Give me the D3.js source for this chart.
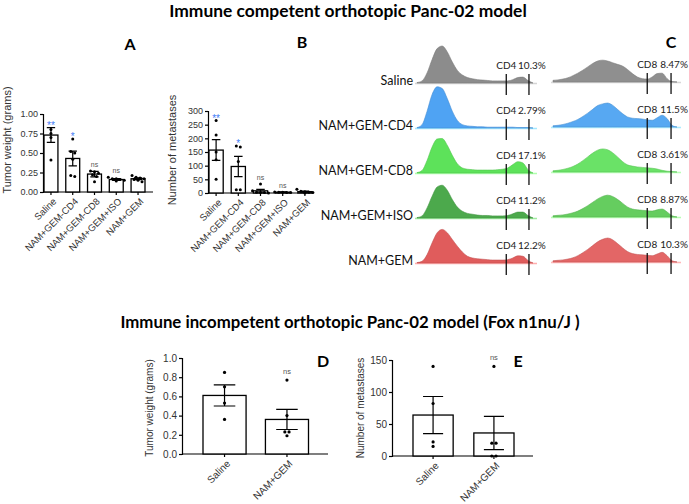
<!DOCTYPE html>
<html>
<head>
<meta charset="utf-8">
<script src="https://cdn.jsdelivr.net/npm/d3@7"></script>
<style>
  body { margin: 0; background: #fff; }
  svg { display: block; }
  .axis path, .axis line { stroke: #000; stroke-width: 1.2; }
  .axis text { font-family: "Liberation Sans", Arial, sans-serif; fill: #333; }
</style>
</head>
<body>
<svg id="chart" width="689" height="504"></svg>
<script>
// immune competent groups (A, B, C)
const groupsTop = ["Saline", "NAM+GEM-CD4", "NAM+GEM-CD8", "NAM+GEM+ISO", "NAM+GEM"];
const weightMeans = [0.73, 0.43, 0.23, 0.16, 0.17];
const weightSem = [0.095, 0.095, 0.035, 0.012, 0.012];
const weightPoints = [
  [0.80, 0.75, 0.70, 0.41],
  [0.68, 0.52, 0.50, 0.42, 0.20, 0.21],
  [0.27, 0.26, 0.22, 0.20, 0.13, 0.24],
  [0.19, 0.17, 0.16, 0.15, 0.14, 0.17],
  [0.21, 0.19, 0.18, 0.16, 0.15, 0.17, 0.13]
];
const weightSig = ["**", "*", "ns", "ns", ""];
const weightTicks = [0, 0.25, 0.5, 0.75, 1.0];

const metMeans = [157, 97, 8, 3, 5];
const metSem = [38, 37, 5, 1, 2];
const metPoints = [
  [265, 212, 150, 122, 50],
  [172, 168, 115, 12, 12],
  [33, 8, 3, 2, 0, 2],
  [3, 2, 2, 3, 4],
  [14, 5, 2, 0, 3, 6]
];
const metSig = ["**", "*", "ns", "ns", ""];
const metTicks = [0, 50, 100, 150, 200, 250, 300];

// flow histograms (C): counts per bin
const cd4Hist = [
  [1, 5, 24, 56, 82, 88, 74, 50, 30, 19, 13, 10, 8, 7, 6, 5, 5, 5, 5, 8, 13, 14, 6, 0],
  [1, 8, 40, 80, 98, 94, 70, 40, 18, 8, 5, 4, 3, 3, 2, 2, 2, 2, 2, 2, 1, 1, 1, 0],
  [1, 6, 30, 62, 81, 82, 66, 42, 22, 12, 9, 8, 7, 7, 7, 7, 8, 9, 12, 20, 27, 24, 8, 0],
  [1, 5, 24, 52, 74, 78, 66, 44, 26, 16, 11, 9, 7, 6, 6, 5, 5, 5, 6, 10, 14, 14, 6, 0],
  [1, 4, 20, 48, 72, 80, 72, 56, 40, 26, 16, 12, 10, 9, 8, 7, 7, 7, 8, 12, 17, 16, 6, 0]
];
const cd8Hist = [
  [4, 5, 7, 10, 15, 21, 28, 36, 44, 50, 52, 50, 46, 42, 38, 30, 20, 12, 8, 7, 12, 20, 21, 8, 1, 0],
  [3, 4, 6, 9, 13, 18, 25, 33, 42, 51, 55, 57, 52, 42, 32, 24, 21, 20, 19, 17, 16, 22, 28, 20, 4, 0],
  [3, 4, 6, 9, 13, 19, 27, 36, 45, 52, 55, 53, 46, 36, 25, 17, 14, 12, 11, 10, 9, 7, 4, 2, 1, 0],
  [3, 4, 5, 7, 10, 14, 20, 27, 35, 43, 49, 52, 49, 42, 33, 24, 19, 17, 16, 15, 14, 17, 19, 12, 3, 0],
  [3, 4, 5, 7, 10, 15, 22, 30, 39, 48, 54, 57, 53, 44, 34, 25, 20, 18, 17, 16, 15, 19, 23, 15, 3, 0]
];
const cd4Gate = [17.7, 22.2];
const cd8Gate = [19, 23.8];
const cd4Pct = ["10.3%", "2.79%", "17.1%", "11.2%", "12.2%"];
const cd8Pct = ["8.47%", "11.5%", "3.61%", "8.87%", "10.3%"];

// nude mice (D, E)
const groupsBottom = ["Saline", "NAM+GEM"];
const nudeWeightMeans = [0.61, 0.36];
const nudeWeightSem = [0.11, 0.105];
const nudeWeightPoints = [[0.85, 0.70, 0.53, 0.36], [0.77, 0.40, 0.23, 0.23, 0.19]];
const nudeWeightSig = ["", "ns"];
const nudeWeightTicks = [0, 0.2, 0.4, 0.6, 0.8, 1.0];

const nudeMetMeans = [64, 36];
const nudeMetSem = [29, 26];
const nudeMetPoints = [[140, 82, 22, 15], [140, 20, 20, 0, 0]];
const nudeMetSig = ["", "ns"];
const nudeMetTicks = [0, 50, 100, 150];

const leftCols = ["#8c8c8c", "#4fa3f3", "#5de25a", "#4ca94c", "#e05c5c"];
const rightCols = ["#8f8f8f", "#57a8f2", "#6ae267", "#65cd5f", "#e36666"];

const svg = d3.select("#chart");
const titleFont = "Lato, 'Open Sans', sans-serif";
const arial = "'Liberation Sans', Arial, sans-serif";

svg.append("text").attr("x", 348).attr("y", 17).attr("text-anchor", "middle")
  .attr("font-family", titleFont).attr("font-weight", "bold").attr("font-size", 17.4)
  .text("Immune competent orthotopic Panc-02 model");
svg.append("text").attr("x", 350).attr("y", 328).attr("text-anchor", "middle")
  .attr("font-family", titleFont).attr("font-weight", "bold").attr("font-size", 16.8)
  .text("Immune incompetent orthotopic Panc-02 model (Fox n1nu/J )");

[["A", 130, 50], ["B", 302, 48], ["C", 671, 48], ["D", 323, 367], ["E", 518, 367]].forEach(([t, x, y]) => {
  svg.append("text").attr("x", x).attr("y", y).attr("text-anchor", "middle")
    .attr("font-family", titleFont).attr("font-weight", "bold").attr("font-size", 16).text(t);
});

// spread points that overlap horizontally, like a scatter dot plot
function swarm(vals, y, cx, r) {
  const pts = vals.map(v => ({ v, py: y(v) })).sort((a, b) => a.py - b.py);
  const clusters = [];
  pts.forEach(p => {
    const c = clusters[clusters.length - 1];
    if (c && Math.abs(p.py - c[0].py) < 2 * r + 0.4) c.push(p); else clusters.push([p]);
  });
  const d = 2 * r + 1;
  clusters.forEach(c => c.forEach((p, j) => { p.px = cx + (j - (c.length - 1) / 2) * d; }));
  return pts;
}

function barPanel(o) {
  const g = svg.append("g");
  const x = d3.scaleBand().domain(o.groups).range(o.band).paddingInner(o.pad).paddingOuter(0);
  const y = d3.scaleLinear().domain([0, o.ymax]).range([o.y0, o.y1]);
  const bw = x.bandwidth();

  g.append("g").attr("class", "axis").attr("transform", `translate(${o.ax},0)`)
    .call(d3.axisLeft(y).tickValues(o.ticks).tickFormat(d3.format(o.fmt)).tickSize(3).tickPadding(2))
    .call(s => s.selectAll("text").attr("font-size", o.tickFs));

  const xa = g.append("g").attr("class", "axis").attr("transform", `translate(0,${o.y0})`)
    .call(d3.axisBottom(x).tickSize(3).tickSizeOuter(0).tickFormat(""));
  xa.select(".domain").attr("d", `M${o.ax},0H${o.axEnd}`);

  // slanted category labels
  g.selectAll("text.xlab").data(o.groups).join("text").attr("class", "xlab")
    .attr("transform", d => `translate(${x(d) + bw / 2 + 1},${o.y0 + 5}) rotate(-45)`)
    .attr("text-anchor", "end").attr("dy", "0.75em")
    .attr("font-family", arial).attr("font-size", o.labFs).attr("fill", "#333").text(d => d);

  g.append("text")
    .attr("transform", `translate(${o.labX},${o.labY}) rotate(-90)`)
    .attr("text-anchor", "middle").attr("font-family", arial)
    .attr("font-size", o.ylabFs).attr("fill", "#333").text(o.ylabel);

  g.selectAll("rect.bar").data(o.groups).join("rect").attr("class", "bar")
    .attr("x", d => x(d)).attr("width", bw)
    .attr("y", (d, i) => y(o.means[i])).attr("height", (d, i) => o.y0 - y(o.means[i]))
    .attr("fill", "#fff").attr("stroke", "#000").attr("stroke-width", 1.3);

  o.groups.forEach((grp, i) => {
    const cx = x(grp) + bw / 2;
    const pts = swarm(o.points[i], y, cx, o.r);
    g.selectAll(null).data(pts).join("circle")
      .attr("cx", p => p.px).attr("cy", p => p.py).attr("r", o.r).attr("fill", "#000");
    const hi = y(o.means[i] + o.sem[i]), lo = y(Math.max(0, o.means[i] - o.sem[i]));
    const cw = bw * o.cap / 2;
    g.append("path").attr("d", `M${cx},${hi}V${lo}M${cx - cw},${hi}H${cx + cw}M${cx - cw},${lo}H${cx + cw}`)
      .attr("stroke", "#000").attr("stroke-width", 1.2).attr("fill", "none");
    const s = o.sig[i];
    if (s) {
      const top = Math.min(hi, d3.min(pts, p => p.py));
      g.append("text").attr("x", cx).attr("y", s === "ns" ? top - o.nsGap : top + 1)
        .attr("text-anchor", "middle").attr("font-family", arial)
        .attr("font-size", s === "ns" ? o.nsFs : 10)
        .attr("fill", s === "ns" ? "#555" : "#3f7cf6").text(s);
    }
  });
}

barPanel({ groups: groupsTop, means: weightMeans, sem: weightSem, points: weightPoints, sig: weightSig,
  ticks: weightTicks, fmt: ".2f", ymax: 1, y0: 192, y1: 114, ax: 43, axEnd: 153, band: [44, 145], pad: 0.36,
  cap: 0.6, r: 1.5, tickFs: 9, labFs: 9.5, ylabel: "Tumor weight (grams)", labX: 11, labY: 140, ylabFs: 11,
  nsFs: 7, nsGap: 4 });

barPanel({ groups: groupsTop, means: metMeans, sem: metSem, points: metPoints, sig: metSig,
  ticks: metTicks, fmt: "d", ymax: 300, y0: 193, y1: 111, ax: 208, axEnd: 313, band: [209, 312], pad: 0.36,
  cap: 0.6, r: 1.5, tickFs: 9, labFs: 9.5, ylabel: "Number of metastases", labX: 176, labY: 150, ylabFs: 11,
  nsFs: 7, nsGap: 4 });

barPanel({ groups: groupsBottom, means: nudeWeightMeans, sem: nudeWeightSem, points: nudeWeightPoints, sig: nudeWeightSig,
  ticks: nudeWeightTicks, fmt: ".1f", ymax: 1, y0: 454, y1: 358, ax: 182, axEnd: 328, band: [203, 308.5], pad: 0.31,
  cap: 0.5, r: 1.6, tickFs: 10, labFs: 10, ylabel: "Tumor weight (grams)", labX: 153, labY: 408, ylabFs: 10,
  nsFs: 7.5, nsGap: 6 });

barPanel({ groups: groupsBottom, means: nudeMetMeans, sem: nudeMetSem, points: nudeMetPoints, sig: nudeMetSig,
  ticks: nudeMetTicks, fmt: "d", ymax: 150, y0: 456, y1: 360, ax: 392, axEnd: 533, band: [413, 514], pad: 0.34,
  cap: 0.5, r: 1.6, tickFs: 10, labFs: 10, ylabel: "Number of metastases", labX: 364, labY: 408, ylabFs: 10,
  nsFs: 7.5, nsGap: 6 });

// ---- C: flow histograms ----
const rowY = d3.scalePoint().domain(groupsTop).range([83, 263]);
const hxL = d3.scaleLinear().domain([0, cd4Hist[0].length - 1]).range([417, 533]);
const hxR = d3.scaleLinear().domain([0, cd8Hist[0].length - 1]).range([553, 677]);
const hy = d3.scaleLinear().domain([0, 100]).range([0, 42]);
const hFont = "Lato, 'Open Sans', sans-serif";

function histo(data, hx, base, col, gate, pct, marker) {
  const area = d3.area().x((d, i) => hx(i)).y0(base).y1(d => base - hy(d)).curve(d3.curveMonotoneX);
  svg.append("line").attr("x1", hx(0) - 2).attr("x2", hx.range()[1] + 4).attr("y1", base + 0.5).attr("y2", base + 0.5)
    .attr("stroke", d3.color(col).brighter(0.8)).attr("stroke-width", 1.5).attr("opacity", 0.6);
  svg.append("path").attr("d", area(data)).attr("fill", col)
    .attr("stroke", d3.color(col).darker(0.4)).attr("stroke-width", 0.6);
  gate.forEach(v => {
    svg.append("line").attr("x1", hx(v)).attr("x2", hx(v)).attr("y1", base - 9).attr("y2", base + 12)
      .attr("stroke", "#111").attr("stroke-width", 1.3);
  });
  svg.append("text").attr("x", hx(gate[0])).attr("y", base - 14).attr("text-anchor", "middle")
    .attr("font-family", hFont).attr("font-size", 10).attr("fill", "#222").text(marker);
  svg.append("text").attr("x", hx(gate[1]) + 3).attr("y", base - 14).attr("text-anchor", "middle")
    .attr("font-family", hFont).attr("font-size", 10).attr("fill", "#222").text(pct);
}

groupsTop.forEach((grp, i) => {
  const base = rowY(grp);
  svg.append("text").attr("x", 413).attr("y", base + 2).attr("text-anchor", "end")
    .attr("font-family", hFont).attr("font-size", 12.5).attr("fill", "#111").text(grp);
  histo(cd4Hist[i], hxL, base, leftCols[i], cd4Gate, cd4Pct[i], "CD4");
  histo(cd8Hist[i], hxR, base - 1, rightCols[i], cd8Gate, cd8Pct[i], "CD8");
});
</script>
</body>
</html>
